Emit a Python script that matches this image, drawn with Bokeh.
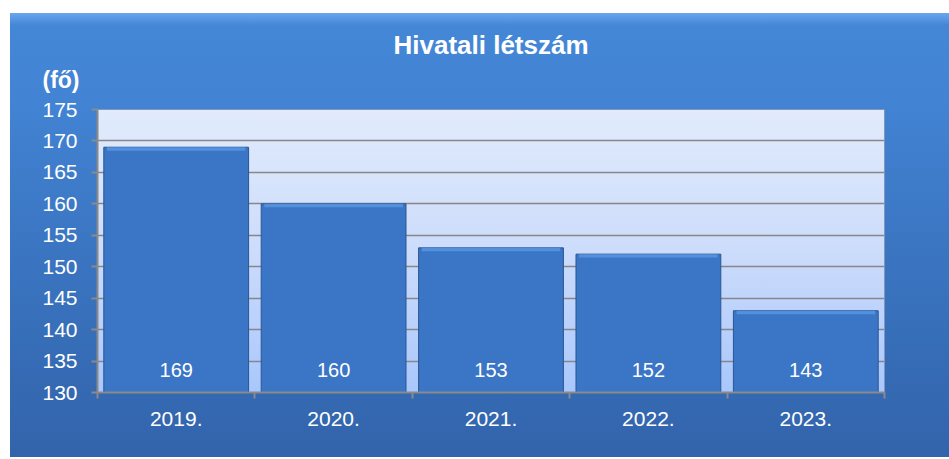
from bokeh.plotting import figure
from bokeh.models import FixedTicker, Title, InlineStyleSheet
from bokeh.core.properties import value
from bokeh.embed import file_html
from bokeh.resources import INLINE

# ---- data ----
years = ["2019.", "2020.", "2021.", "2022.", "2023."]
headcount = [169, 160, 153, 152, 143]
y_ticks = [130, 135, 140, 145, 150, 155, 160, 165, 170, 175]
axis_min = 130
axis_max = 175
title_text = "Hivatali létszám"
unit_text = "(fő)"

FONT = "Liberation Sans"
x_pos = [i + 0.5 for i in range(len(years))]
bound_ticks = [i for i in range(len(years) + 1)]

css = InlineStyleSheet(css="""
:host {
  background:
    linear-gradient(to bottom, #E1EBFC 0%, #CCDCFB 50%, #A9C7FD 100%) 87px 96px / 787px 283px no-repeat,
    linear-gradient(to bottom, #6AA6EE 0px, #4587D7 12px, #4283D3 90px, #3A74C0 250px, #3264AB 100%);
}
""")

p = figure(width=939, height=444, x_range=(0, len(years)), y_range=(axis_min, axis_max),
           output_backend="svg", toolbar_location=None, title=None,
           min_border_left=87, min_border_right=65, min_border_top=96, min_border_bottom=65)
p.margin = (13, 0, 0, 10)
p.stylesheets = [css]
p.border_fill_alpha = 0
p.background_fill_alpha = 0
p.outline_line_color = "#7F97C0"
p.outline_line_width = 1

# titles
unit_title = Title(text=unit_text, align="left", offset=-55, text_color="white",
                   text_font=FONT, text_font_size="23px", text_font_style="bold", standoff=34)
main_title = Title(text=title_text, align="center", offset=-5, text_color="white",
                   text_font=FONT, text_font_size="26px", text_font_style="bold", standoff=-25)
p.add_layout(unit_title, "above")
p.add_layout(main_title, "above")

# bars
p.vbar(x=x_pos, top=headcount, bottom=axis_min, width=0.92,
       fill_color="#3A76C5", line_color="#2A5694", line_width=1)
p.vbar(x=x_pos, top=headcount, bottom=[v - 0.55 for v in headcount], width=0.88,
       fill_color="#5E9DEA", line_color=None, fill_alpha=0.7)

p.text(x=x_pos, y=[axis_min] * len(years), text=[str(v) for v in headcount],
       y_offset=-23, text_align="center", text_baseline="middle", text_color="white",
       text_font=value(FONT), text_font_size="20px")

# axes
p.xaxis.ticker = FixedTicker(ticks=x_pos, minor_ticks=bound_ticks)
p.xaxis.major_label_overrides = {xv: lab for xv, lab in zip(x_pos, years)}
p.xaxis.major_tick_out = 0
p.xaxis.major_tick_in = 0
p.xaxis.minor_tick_out = 6
p.xaxis.minor_tick_in = 0
p.xaxis.minor_tick_line_color = "#8A8A8A"
p.xaxis.minor_tick_line_width = 2
p.xaxis.major_label_standoff = 13

p.yaxis.ticker = FixedTicker(ticks=y_ticks)
p.yaxis.major_tick_out = 6
p.yaxis.major_tick_in = 0
p.yaxis.minor_tick_line_color = None
p.yaxis.major_tick_line_color = "#8A8A8A"
p.yaxis.major_tick_line_width = 2
p.yaxis.major_label_standoff = 14

for ax in (p.xaxis, p.yaxis):
    ax.axis_line_color = "#8A8A8A"
    ax.axis_line_width = 2
    ax.major_label_text_color = "white"
    ax.major_label_text_font = FONT
    ax.major_label_text_font_size = "21px"

p.xgrid.grid_line_color = None
p.ygrid.ticker = FixedTicker(ticks=y_ticks)
p.ygrid.grid_line_color = "#878787"
p.ygrid.grid_line_width = 1.5

open("out.html", "w").write(file_html(p, INLINE))
